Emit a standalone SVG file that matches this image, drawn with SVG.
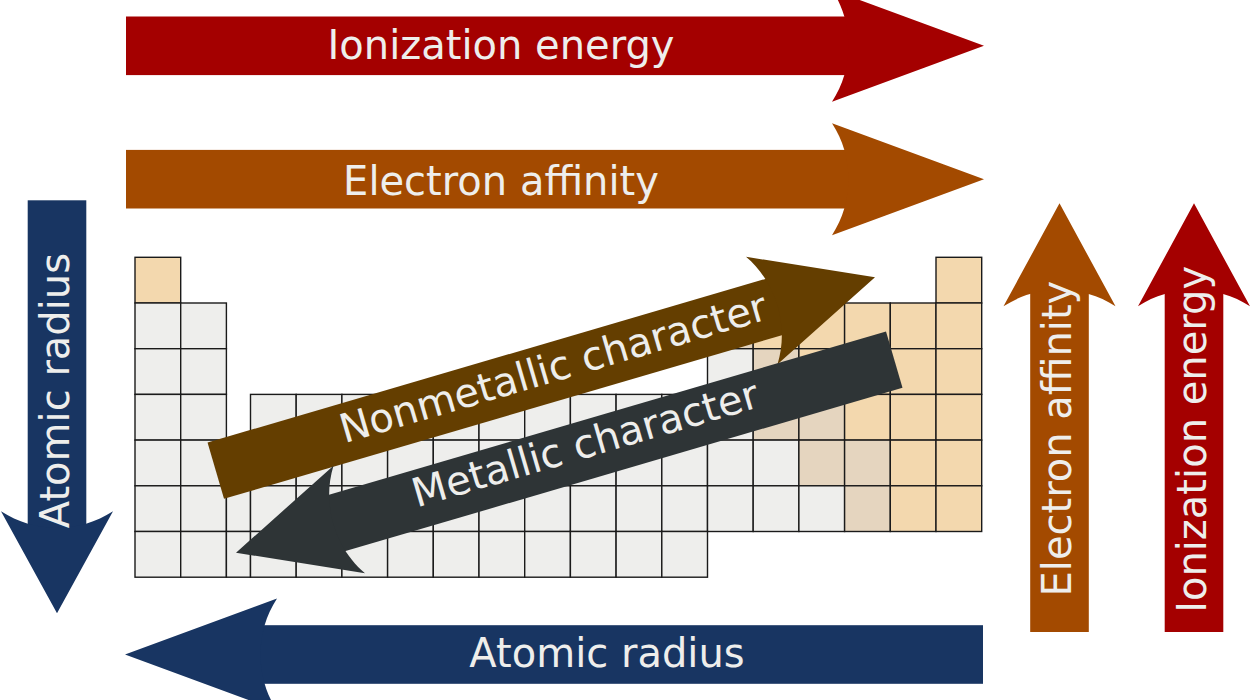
<svg xmlns="http://www.w3.org/2000/svg" width="1250" height="700" viewBox="0 0 1250 700">
<style>
.g{fill:#eeeeec;stroke:#1a1a1a;stroke-width:1.4}
.n{fill:#f3d8ae;stroke:#1a1a1a;stroke-width:1.4}
.m{fill:#e5d5bf;stroke:#1a1a1a;stroke-width:1.4}
.t{font-family:"DejaVu Sans","Noto Sans",sans-serif;font-size:40px;fill:#eeeeec;text-anchor:middle}
.red{fill:#a40000}
.org{fill:#a34a00}
.navy{fill:#183562}
.brn{fill:#643e00}
.dk{fill:#2e3436}
</style>
<rect width="1250" height="700" fill="#ffffff"/>
<g id="table">
<!-- row 1 -->
<rect class="n" x="135" y="257.3" width="45.7" height="45.7"/>
<rect class="n" x="936" y="257.3" width="45.7" height="45.7"/>
<!-- row 2 -->
<rect class="g" x="135" y="303" width="45.7" height="45.7"/>
<rect class="g" x="180.7" y="303" width="45.7" height="45.7"/>
<rect class="m" x="707.5" y="303" width="45.7" height="45.7"/>
<rect class="n" x="753.2" y="303" width="45.7" height="45.7"/>
<rect class="n" x="798.9" y="303" width="45.7" height="45.7"/>
<rect class="n" x="844.6" y="303" width="45.7" height="45.7"/>
<rect class="n" x="890.3" y="303" width="45.7" height="45.7"/>
<rect class="n" x="936" y="303" width="45.7" height="45.7"/>
<!-- row 3 -->
<rect class="g" x="135" y="348.7" width="45.7" height="45.7"/>
<rect class="g" x="180.7" y="348.7" width="45.7" height="45.7"/>
<rect class="g" x="707.5" y="348.7" width="45.7" height="45.7"/>
<rect class="m" x="753.2" y="348.7" width="45.7" height="45.7"/>
<rect class="n" x="798.9" y="348.7" width="45.7" height="45.7"/>
<rect class="n" x="844.6" y="348.7" width="45.7" height="45.7"/>
<rect class="n" x="890.3" y="348.7" width="45.7" height="45.7"/>
<rect class="n" x="936" y="348.7" width="45.7" height="45.7"/>
<!-- row 4 -->
<rect class="g" x="135" y="394.4" width="45.7" height="45.7"/>
<rect class="g" x="180.7" y="394.4" width="45.7" height="45.7"/>
<rect class="g" x="250.5" y="394.4" width="45.7" height="45.7"/>
<rect class="g" x="296.2" y="394.4" width="45.7" height="45.7"/>
<rect class="g" x="341.9" y="394.4" width="45.7" height="45.7"/>
<rect class="g" x="387.6" y="394.4" width="45.7" height="45.7"/>
<rect class="g" x="433.3" y="394.4" width="45.7" height="45.7"/>
<rect class="g" x="479" y="394.4" width="45.7" height="45.7"/>
<rect class="g" x="524.7" y="394.4" width="45.7" height="45.7"/>
<rect class="g" x="570.4" y="394.4" width="45.7" height="45.7"/>
<rect class="g" x="616.1" y="394.4" width="45.7" height="45.7"/>
<rect class="g" x="661.8" y="394.4" width="45.7" height="45.7"/>
<rect class="g" x="707.5" y="394.4" width="45.7" height="45.7"/>
<rect class="m" x="753.2" y="394.4" width="45.7" height="45.7"/>
<rect class="m" x="798.9" y="394.4" width="45.7" height="45.7"/>
<rect class="n" x="844.6" y="394.4" width="45.7" height="45.7"/>
<rect class="n" x="890.3" y="394.4" width="45.7" height="45.7"/>
<rect class="n" x="936" y="394.4" width="45.7" height="45.7"/>
<!-- row 5 -->
<rect class="g" x="135" y="440.1" width="45.7" height="45.7"/>
<rect class="g" x="180.7" y="440.1" width="45.7" height="45.7"/>
<rect class="g" x="250.5" y="440.1" width="45.7" height="45.7"/>
<rect class="g" x="296.2" y="440.1" width="45.7" height="45.7"/>
<rect class="g" x="341.9" y="440.1" width="45.7" height="45.7"/>
<rect class="g" x="387.6" y="440.1" width="45.7" height="45.7"/>
<rect class="g" x="433.3" y="440.1" width="45.7" height="45.7"/>
<rect class="g" x="479" y="440.1" width="45.7" height="45.7"/>
<rect class="g" x="524.7" y="440.1" width="45.7" height="45.7"/>
<rect class="g" x="570.4" y="440.1" width="45.7" height="45.7"/>
<rect class="g" x="616.1" y="440.1" width="45.7" height="45.7"/>
<rect class="g" x="661.8" y="440.1" width="45.7" height="45.7"/>
<rect class="g" x="707.5" y="440.1" width="45.7" height="45.7"/>
<rect class="g" x="753.2" y="440.1" width="45.7" height="45.7"/>
<rect class="m" x="798.9" y="440.1" width="45.7" height="45.7"/>
<rect class="m" x="844.6" y="440.1" width="45.7" height="45.7"/>
<rect class="n" x="890.3" y="440.1" width="45.7" height="45.7"/>
<rect class="n" x="936" y="440.1" width="45.7" height="45.7"/>
<!-- row 6 -->
<rect class="g" x="135" y="485.8" width="45.7" height="45.7"/>
<rect class="g" x="180.7" y="485.8" width="45.7" height="45.7"/>
<rect class="g" x="226.4" y="485.8" width="24.1" height="45.7"/>
<rect class="g" x="250.5" y="485.8" width="45.7" height="45.7"/>
<rect class="g" x="296.2" y="485.8" width="45.7" height="45.7"/>
<rect class="g" x="341.9" y="485.8" width="45.7" height="45.7"/>
<rect class="g" x="387.6" y="485.8" width="45.7" height="45.7"/>
<rect class="g" x="433.3" y="485.8" width="45.7" height="45.7"/>
<rect class="g" x="479" y="485.8" width="45.7" height="45.7"/>
<rect class="g" x="524.7" y="485.8" width="45.7" height="45.7"/>
<rect class="g" x="570.4" y="485.8" width="45.7" height="45.7"/>
<rect class="g" x="616.1" y="485.8" width="45.7" height="45.7"/>
<rect class="g" x="661.8" y="485.8" width="45.7" height="45.7"/>
<rect class="g" x="707.5" y="485.8" width="45.7" height="45.7"/>
<rect class="g" x="753.2" y="485.8" width="45.7" height="45.7"/>
<rect class="g" x="798.9" y="485.8" width="45.7" height="45.7"/>
<rect class="m" x="844.6" y="485.8" width="45.7" height="45.7"/>
<rect class="n" x="890.3" y="485.8" width="45.7" height="45.7"/>
<rect class="n" x="936" y="485.8" width="45.7" height="45.7"/>
<!-- row 7 -->
<rect class="g" x="135" y="531.5" width="45.7" height="45.7"/>
<rect class="g" x="180.7" y="531.5" width="45.7" height="45.7"/>
<rect class="g" x="226.4" y="531.5" width="24.1" height="45.7"/>
<rect class="g" x="250.5" y="531.5" width="45.7" height="45.7"/>
<rect class="g" x="296.2" y="531.5" width="45.7" height="45.7"/>
<rect class="g" x="341.9" y="531.5" width="45.7" height="45.7"/>
<rect class="g" x="387.6" y="531.5" width="45.7" height="45.7"/>
<rect class="g" x="433.3" y="531.5" width="45.7" height="45.7"/>
<rect class="g" x="479" y="531.5" width="45.7" height="45.7"/>
<rect class="g" x="524.7" y="531.5" width="45.7" height="45.7"/>
<rect class="g" x="570.4" y="531.5" width="45.7" height="45.7"/>
<rect class="g" x="616.1" y="531.5" width="45.7" height="45.7"/>
<rect class="g" x="661.8" y="531.5" width="45.7" height="45.7"/>
</g>
<g id="arrows">
<g id="ionization-energy-top">
<g class="red" transform="translate(984,45.8)">
<rect x="-858" y="-29.3" width="730" height="58.6"/>
<path d="M0,0 L-152,56 C-130,22.7 -130,-22.7 -152,-56 Z"/>
</g>
<text class="t" x="501" y="58.5">Ionization energy</text>
</g>
<g id="electron-affinity-top">
<g class="org" transform="translate(984,179.2)">
<rect x="-858" y="-29.3" width="730" height="58.6"/>
<path d="M0,0 L-152,56 C-130,22.7 -130,-22.7 -152,-56 Z"/>
</g>
<text class="t" x="501" y="195">Electron affinity</text>
</g>
<g id="atomic-radius-bottom">
<g class="navy" transform="translate(125,654.5) rotate(180)">
<rect x="-858" y="-29.3" width="730" height="58.6"/>
<path d="M0,0 L-152,56 C-130,22.7 -130,-22.7 -152,-56 Z"/>
</g>
<text class="t" x="607" y="667">Atomic radius</text>
</g>
<g id="atomic-radius-left">
<g class="navy" transform="translate(57,613.3) rotate(90)">
<rect x="-413" y="-29.3" width="335" height="58.6"/>
<path d="M0,0 L-102,56 C-80,22.7 -80,-22.7 -102,-56 Z"/>
</g>
<text class="t" transform="translate(69.3,390.6) rotate(-90)">Atomic radius</text>
</g>
<g id="electron-affinity-right">
<g class="org" transform="translate(1059.5,203.3) rotate(-90)">
<rect x="-428.7" y="-29.3" width="349.7" height="58.6"/>
<path d="M0,0 L-103,56 C-81,22.7 -81,-22.7 -103,-56 Z"/>
</g>
<text class="t" transform="translate(1070.7,438.6) rotate(-90)">Electron affinity</text>
</g>
<g id="ionization-energy-right">
<g class="red" transform="translate(1194,203.3) rotate(-90)">
<rect x="-428.7" y="-29.3" width="349.7" height="58.6"/>
<path d="M0,0 L-103,56 C-81,22.7 -81,-22.7 -103,-56 Z"/>
</g>
<text class="t" transform="translate(1206,439.4) rotate(-90)">Ionization energy</text>
</g>
<g id="nonmetallic-character">
<g class="brn" transform="translate(875,277.3) rotate(-16.35)">
<rect x="-687" y="-29.3" width="593" height="58.6"/>
<path d="M0,0 L-118,56 C-96,22.7 -96,-22.7 -118,-56 Z"/>
</g>
<text class="t" transform="translate(557,381) rotate(-16.35)">Nonmetallic character</text>
</g>
<g id="metallic-character">
<g class="dk" transform="translate(236,552.7) rotate(163.65)">
<rect x="-686" y="-29.3" width="592" height="58.6"/>
<path d="M0,0 L-118,56 C-96,22.7 -96,-22.7 -118,-56 Z"/>
</g>
<text class="t" transform="translate(589,457) rotate(-16.35)">Metallic character</text>
</g>
</g>
</svg>
